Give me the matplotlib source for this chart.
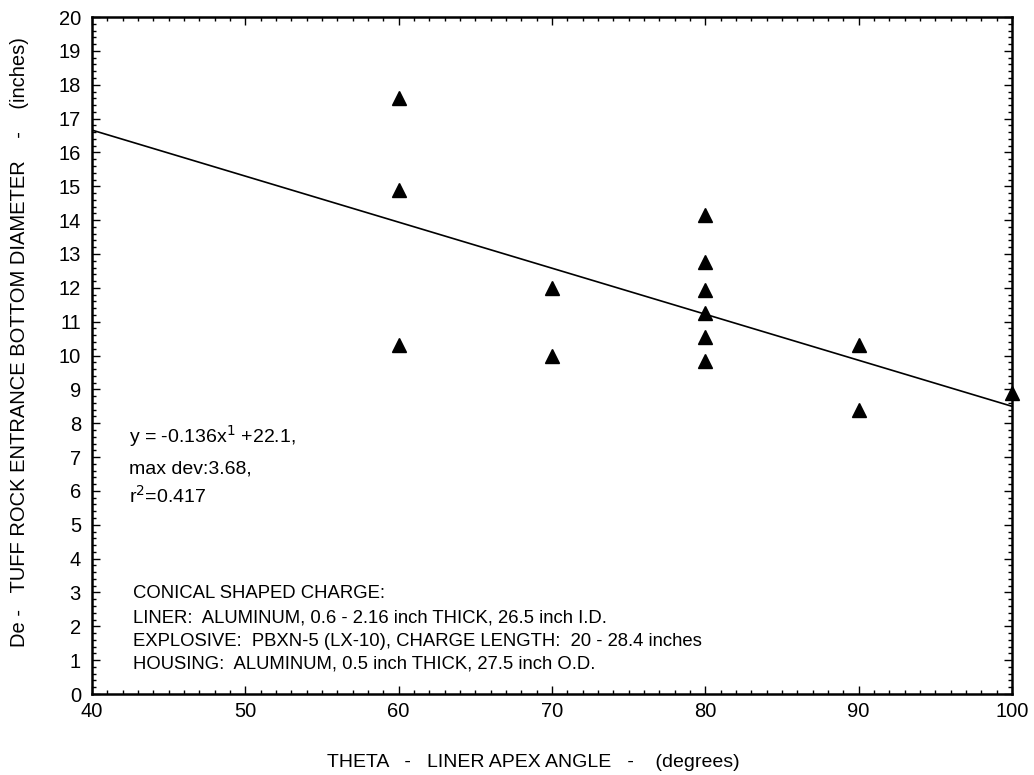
import numpy as np
import matplotlib
matplotlib.use("Agg")
from matplotlib import pyplot as plt
from matplotlib.ticker import MultipleLocator

plt.rcParams['font.family'] = ['Liberation Sans', 'DejaVu Sans']

#data
theta = [60, 60, 60, 70, 70, 80, 80, 80, 80, 80, 80, 90, 90, 100]
diam = [17.6, 14.9, 10.3, 12.0, 10.0, 14.15, 12.75, 11.95, 11.25, 10.55, 9.85, 10.3, 8.4, 8.9]

#fit line as printed on the chart
slope = -0.136
intercept = 22.1
fitRange = [40, 100]

eqLines = [r'y = -0.136x$^{1}$ +22.1,', 'max dev:3.68,', r'r$^{2}$=0.417']
noteLines = ['CONICAL SHAPED CHARGE:',
             'LINER:  ALUMINUM, 0.6 - 2.16 inch THICK, 26.5 inch I.D.',
             'EXPLOSIVE:  PBXN-5 (LX-10), CHARGE LENGTH:  20 - 28.4 inches',
             'HOUSING:  ALUMINUM, 0.5 inch THICK, 27.5 inch O.D.']

fig = plt.figure(figsize=(10.34, 7.75), dpi=100)
ax = fig.add_axes([0.089, 0.1045, 0.8897, 0.8735])

xf = np.array(fitRange, dtype=float)
ax.plot(xf, slope*xf + intercept, color='black', lw=1.2, zorder=2)
ax.plot(theta, diam, linestyle='none', marker='^', ms=10, color='black', clip_on=False, zorder=3)

ax.set_xlim(40, 100)
ax.set_ylim(0, 20)
ax.xaxis.set_major_locator(MultipleLocator(10))
ax.xaxis.set_minor_locator(MultipleLocator(1))
ax.yaxis.set_major_locator(MultipleLocator(1))
ax.yaxis.set_minor_locator(MultipleLocator(0.2))
ax.tick_params(which='both', direction='in', top=True, right=True, labelsize=14.5, width=1)
ax.tick_params(which='major', length=6)
ax.tick_params(which='minor', length=3)
ax.tick_params(axis='y', pad=8)
ax.tick_params(axis='x', pad=6)
for s in ax.spines.values():
    s.set_linewidth(1.8)

ax.set_xlabel('THETA   -   LINER APEX ANGLE   -    (degrees)', fontsize=14)
ax.set_ylabel('De -   TUFF ROCK ENTRANCE BOTTOM DIAMETER    -    (inches)', fontsize=14.5)
ax.xaxis.set_label_coords(0.48, -0.088)
ax.yaxis.set_label_coords(-0.068, 0.52)

#equation block, one baseline per line
eqY = [0.371, 0.326, 0.282]
for t, yy in zip(eqLines, eqY):
    ax.text(0.04, yy, t, transform=ax.transAxes, fontsize=14, va='baseline', ha='left')

noteY = [0.142, 0.106, 0.071, 0.038]
for t, yy in zip(noteLines, noteY):
    ax.text(0.045, yy, t, transform=ax.transAxes, fontsize=13.3, va='baseline', ha='left')

fig.savefig('out.png', dpi=100)
